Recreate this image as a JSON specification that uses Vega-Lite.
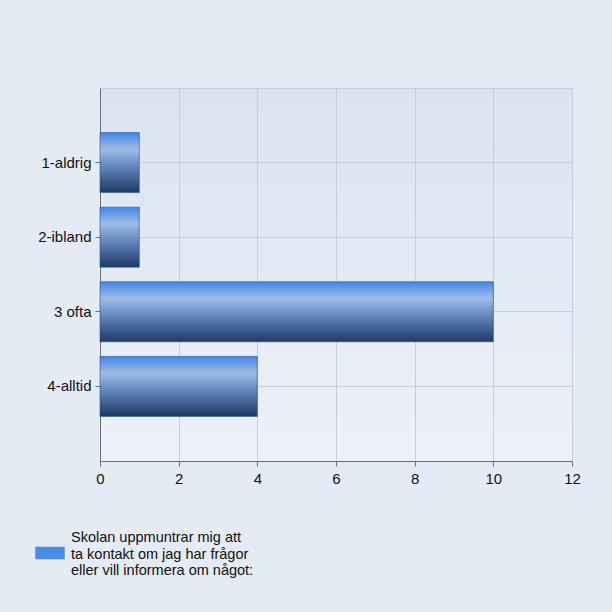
{
  "$schema": "https://vega.github.io/schema/vega-lite/v6.json",
  "width": 472,
  "height": 373,
  "autosize": {"type": "none"},
  "padding": {"left": 100, "top": 88, "right": 40, "bottom": 151},
  "background": "#e5ebf5",
  "config": {
    "view": {
      "stroke": "#c5cedb",
      "strokeWidth": 1,
      "fill": {"gradient": "linear", "x1": 0, "y1": 0, "x2": 0, "y2": 1, "stops": [{"offset": 0, "color": "#dae3f1"}, {"offset": 1, "color": "#edf1f8"}]}
    },
    "font": "Liberation Sans",
    "axis": {
      "labelFont": "Liberation Sans",
      "labelFontSize": 15,
      "labelColor": "#111111",
      "domainColor": "#707070",
      "tickColor": "#707070",
      "gridColor": "#c5cedb",
      "gridWidth": 1,
      "tickSize": 5
    }
  },
  "data": {
    "values": [
      {"category": "1-aldrig", "count": 1, "series": "Skolan uppmuntrar mig att|ta kontakt om jag har frågor|eller vill informera om något:"},
      {"category": "2-ibland", "count": 1, "series": "Skolan uppmuntrar mig att|ta kontakt om jag har frågor|eller vill informera om något:"},
      {"category": "3 ofta", "count": 10, "series": "Skolan uppmuntrar mig att|ta kontakt om jag har frågor|eller vill informera om något:"},
      {"category": "4-alltid", "count": 4, "series": "Skolan uppmuntrar mig att|ta kontakt om jag har frågor|eller vill informera om något:"}
    ]
  },
  "encoding": {
    "y": {
      "field": "category",
      "type": "nominal",
      "sort": null,
      "scale": {"paddingInner": 0.196, "paddingOuter": 0.598},
      "axis": {"title": null, "grid": true, "labelPadding": 4, "domain": true}
    },
    "x": {
      "field": "count",
      "type": "quantitative",
      "scale": {"domain": [0, 12], "nice": false},
      "axis": {"title": null, "values": [0, 2, 4, 6, 8, 10, 12], "grid": true, "labelPadding": 5, "labelFlush": false}
    }
  },
  "layer": [
    {
      "mark": {
        "type": "bar",
        "stroke": "#2c4f86",
        "strokeWidth": 0.6,
        "fill": {"gradient": "linear", "x1": 0, "y1": 0, "x2": 0, "y2": 1, "stops": [
          {"offset": 0, "color": "#4286e8"},
          {"offset": 0.28, "color": "#9dbce6"},
          {"offset": 0.6, "color": "#5d80b6"},
          {"offset": 1, "color": "#1e3a66"}
        ]}
      }
    },
    {
      "mark": {"type": "bar", "opacity": 0},
      "encoding": {
        "color": {
          "field": "series",
          "type": "nominal",
          "scale": {"range": ["#4a8ce8"]},
          "legend": {
            "title": null,
            "orient": "none",
            "legendX": -65,
            "legendY": 435,
            "labelFont": "Liberation Sans",
            "labelFontSize": 14.5,
            "labelColor": "#111111",
            "labelLimit": 400,
            "labelOffset": 6,
            "labelExpr": "split(datum.label, '|')",
            "symbolType": "M-1,0.593L1,0.593L1,1.441L-1,1.441Z",
            "symbolSize": 870,
            "symbolOpacity": 1,
            "symbolStrokeWidth": 0
          }
        }
      }
    }
  ]
}
